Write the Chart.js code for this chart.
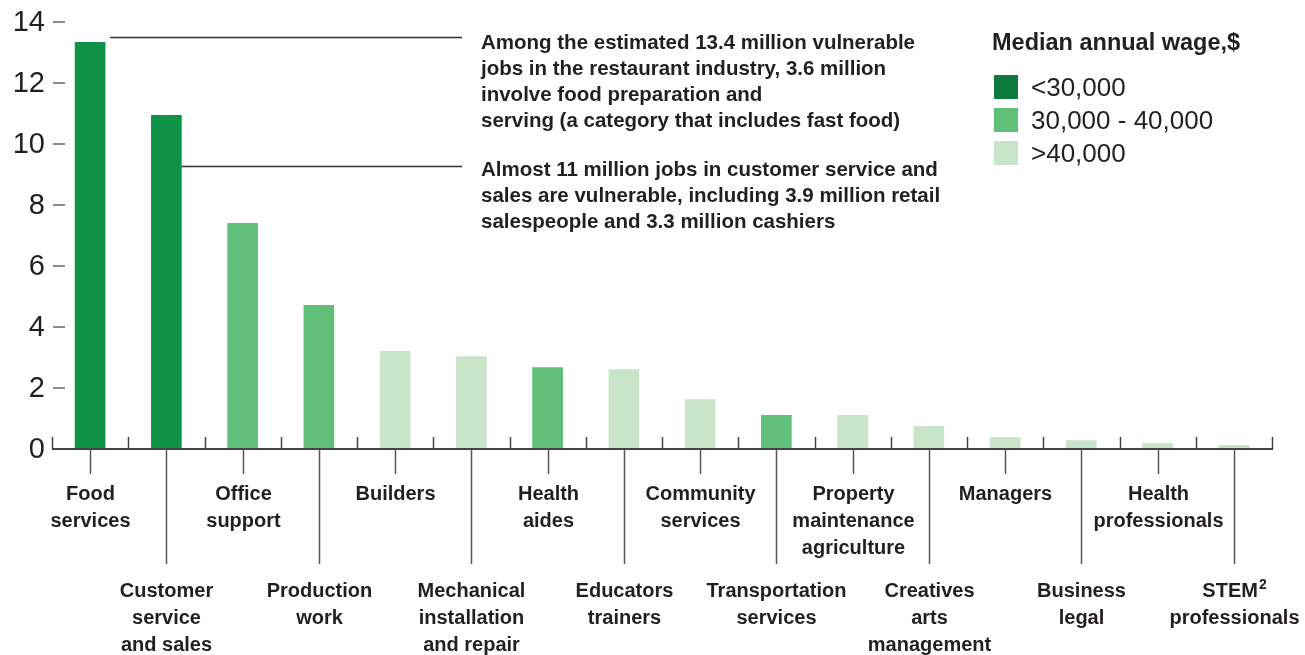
<!DOCTYPE html>
<html>
<head>
<meta charset="utf-8">
<script src="https://cdn.jsdelivr.net/npm/chart.js@4"></script>
<style>
  html, body { margin: 0; padding: 0; background: #fff; }
  #wrap { width: 1305px; height: 655px; }
</style>
</head>
<body>
<div id="wrap"><canvas id="jobsChart" width="1305" height="655"></canvas></div>
<script>
// ================= DATA =================
const categories = [
  ["Food", "services"],
  ["Customer", "service", "and sales"],
  ["Office", "support"],
  ["Production", "work"],
  ["Builders"],
  ["Mechanical", "installation", "and repair"],
  ["Health", "aides"],
  ["Educators", "trainers"],
  ["Community", "services"],
  ["Transportation", "services"],
  ["Property", "maintenance", "agriculture"],
  ["Creatives", "arts", "management"],
  ["Managers"],
  ["Business", "legal"],
  ["Health", "professionals"],
  ["STEM²", "professionals"]
];

// vulnerable jobs, millions
const jobs = [13.33, 10.94, 7.40, 4.71, 3.20, 3.03, 2.67, 2.60, 1.62, 1.10, 1.10, 0.74, 0.38, 0.28, 0.18, 0.12];

// median annual wage group per category: 0 = <30k, 1 = 30-40k, 2 = >40k
const wageGroup = [0, 0, 1, 1, 2, 2, 1, 2, 2, 1, 2, 2, 2, 2, 2, 2];

const wageLabels = ["<30,000", "30,000 - 40,000", ">40,000"];
const yTicks = [0, 2, 4, 6, 8, 10, 12, 14];

const notes = [
  { bar: 0, at: 13.5, lines: [
    "Among the estimated 13.4 million vulnerable",
    "jobs in the restaurant industry, 3.6 million",
    "involve food preparation and",
    "serving (a category that includes fast food)"
  ]},
  { bar: 1, at: 9.27, lines: [
    "Almost 11 million jobs in customer service and",
    "sales are vulnerable, including 3.9 million retail",
    "salespeople and 3.3 million cashiers"
  ]}
];

// ================= STYLE =================
const BAR_COLORS = ["#0f9447", "#62bf7a", "#c8e5ca"];
const LEGEND_COLORS = ["#0f7a3f", "#62bf7a", "#c8e5ca"];
const FONT = '"Liberation Sans", Arial, Helvetica, sans-serif';
const INK = "#231f20";
const RULE = "#444";

// label text, with a raised "2" for STEM²
function drawLabel(ctx, t, cx, by) {
  if (!t.endsWith("²")) {
    ctx.fillText(t, cx, by);
    return;
  }
  const main = t.slice(0, -1);
  const w1 = ctx.measureText(main).width;
  const keep = ctx.font;
  ctx.font = "bold 14px " + FONT;
  const w2 = ctx.measureText("2").width;
  const left = cx - (w1 + w2 + 1) / 2;
  ctx.textAlign = "left";
  ctx.fillText("2", left + w1 + 1, by - 8);
  ctx.font = keep;
  ctx.fillText(main, left, by);
  ctx.textAlign = "center";
}

// ================= DECORATIONS =================
const decorPlugin = {
  id: "decor",
  afterDatasetsDraw(chart) {
    const ctx = chart.ctx;
    const x = chart.scales.x;
    const y = chart.scales.y;
    const area = chart.chartArea;
    const base = y.getPixelForValue(0);
    const step = (area.right - area.left) / categories.length;
    const bars = chart.getDatasetMeta(0).data;

    ctx.save();

    // y tick labels and dashes
    ctx.fillStyle = INK;
    ctx.font = "29px " + FONT;
    ctx.textAlign = "right";
    ctx.textBaseline = "middle";
    yTicks.forEach(v => {
      const py = y.getPixelForValue(v);
      ctx.fillText(String(v), area.left - 7, py + 1);
      if (v > 0) {
        ctx.strokeStyle = "#666";
        ctx.lineWidth = 1.5;
        ctx.beginPath();
        ctx.moveTo(area.left + 1, py);
        ctx.lineTo(area.left + 13, py);
        ctx.stroke();
      }
    });

    // x axis line
    ctx.strokeStyle = RULE;
    ctx.lineWidth = 2;
    ctx.beginPath();
    ctx.moveTo(area.left, base);
    ctx.lineTo(area.right + 1, base);
    ctx.stroke();

    // up ticks between categories
    ctx.lineWidth = 1.5;
    for (let i = 0; i <= categories.length; i++) {
      const px = Math.round(area.left + i * step) + 0.5;
      ctx.beginPath();
      ctx.moveTo(px, base);
      ctx.lineTo(px, base - 12);
      ctx.stroke();
    }

    // down ticks + labels
    ctx.font = "bold 20px " + FONT;
    ctx.textAlign = "center";
    ctx.textBaseline = "alphabetic";
    categories.forEach((lines, i) => {
      const px = Math.round(x.getPixelForValue(i)) + 0.5;
      const low = i % 2 === 1;
      ctx.strokeStyle = "#555";
      ctx.beginPath();
      ctx.moveTo(px, base);
      ctx.lineTo(px, low ? base + 115 : base + 25);
      ctx.stroke();
      const first = low ? base + 148 : base + 51;
      lines.forEach((t, k) => {
        drawLabel(ctx, t, px, first + k * 27);
      });
    });

    // annotations
    notes.forEach((n, j) => {
      const bar = bars[n.bar];
      const py = Math.round(y.getPixelForValue(n.at)) + 0.5;
      const startX = j === 0 ? bar.x + bar.width / 2 + 5 : bar.x + bar.width / 2;
      ctx.strokeStyle = "#333";
      ctx.lineWidth = 1.5;
      ctx.beginPath();
      ctx.moveTo(startX, py);
      ctx.lineTo(462, py);
      ctx.stroke();
      ctx.fillStyle = INK;
      ctx.font = "bold 20.5px " + FONT;
      ctx.textAlign = "left";
      const off = j === 0 ? 11 : 9;
      n.lines.forEach((t, k) => {
        ctx.fillText(t, 481, py + off + k * 26);
      });
    });

    // legend
    ctx.fillStyle = INK;
    ctx.font = "bold 23.5px " + FONT;
    ctx.textAlign = "left";
    ctx.fillText("Median annual wage,$", 992, 50);
    ctx.font = "26px " + FONT;
    wageLabels.forEach((t, k) => {
      const top = 75 + k * 33;
      ctx.fillStyle = LEGEND_COLORS[k];
      ctx.fillRect(994, top, 24, 24);
      ctx.fillStyle = INK;
      ctx.fillText(t, 1031, top + 21);
    });

    ctx.restore();
  }
};

// ================= CHART =================
new Chart(document.getElementById("jobsChart"), {
  type: "bar",
  data: {
    labels: categories.map(l => l.join(" ")),
    datasets: [{
      label: "Vulnerable jobs, millions",
      data: jobs,
      backgroundColor: jobs.map((_, i) => BAR_COLORS[wageGroup[i]]),
      borderWidth: 0,
      barThickness: 30
    }]
  },
  options: {
    responsive: false,
    animation: false,
    layout: { padding: { left: 52, right: 33, top: 22, bottom: 206 } },
    plugins: { legend: { display: false }, tooltip: { enabled: false } },
    scales: {
      x: { display: false, offset: true },
      y: { display: false, min: 0, max: 14 }
    }
  },
  plugins: [decorPlugin]
});
</script>
</body>
</html>
